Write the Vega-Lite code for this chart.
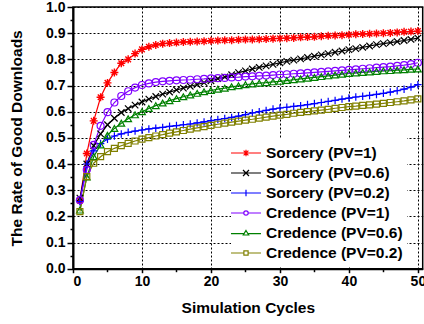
{
  "$schema": "https://vega.github.io/schema/vega-lite/v6.json",
  "width": 349.7,
  "height": 261.7,
  "autosize": {"type": "none"},
  "padding": {"left": 73, "top": 7, "right": 1.3, "bottom": 55.3},
  "config": {
    "font": "Liberation Sans",
    "view": {"stroke": "black", "strokeWidth": 1.5},
    "axis": {
      "labelFont": "Liberation Sans", "labelFontWeight": "bold", "labelFontSize": 14, "labelColor": "black",
      "titleFont": "Liberation Sans", "titleFontWeight": "bold", "titleFontSize": 15.5, "titleColor": "black",
      "domainColor": "black", "domainWidth": 2, "tickColor": "black", "tickWidth": 1.5,
      "gridColor": "black", "gridDash": [2, 2], "gridOpacity": 1, "gridWidth": 1
    },
    "legend": {
      "labelFont": "Liberation Sans", "labelFontWeight": "bold", "labelFontSize": 15.5, "labelColor": "black",
      "labelLimit": 300
    },
    "point": {"filled": false, "size": 49, "strokeWidth": 1.2, "opacity": 1}
  },
  "resolve": {"axis": {"x": "independent", "y": "independent"}},
  "data": {"values": [
    {"x":1,"s":"Sorcery (PV=1)","y":0.26},{"x":2,"s":"Sorcery (PV=1)","y":0.44},{"x":3,"s":"Sorcery (PV=1)","y":0.565},{"x":4,"s":"Sorcery (PV=1)","y":0.655},{"x":5,"s":"Sorcery (PV=1)","y":0.71},{"x":6,"s":"Sorcery (PV=1)","y":0.75},{"x":7,"s":"Sorcery (PV=1)","y":0.785},{"x":8,"s":"Sorcery (PV=1)","y":0.8},{"x":9,"s":"Sorcery (PV=1)","y":0.822},{"x":10,"s":"Sorcery (PV=1)","y":0.838},
    {"x":11,"s":"Sorcery (PV=1)","y":0.848},{"x":12,"s":"Sorcery (PV=1)","y":0.855},{"x":13,"s":"Sorcery (PV=1)","y":0.86},{"x":14,"s":"Sorcery (PV=1)","y":0.862},{"x":15,"s":"Sorcery (PV=1)","y":0.864},{"x":16,"s":"Sorcery (PV=1)","y":0.866},{"x":17,"s":"Sorcery (PV=1)","y":0.867},{"x":18,"s":"Sorcery (PV=1)","y":0.868},{"x":19,"s":"Sorcery (PV=1)","y":0.869},{"x":20,"s":"Sorcery (PV=1)","y":0.871},
    {"x":21,"s":"Sorcery (PV=1)","y":0.872},{"x":22,"s":"Sorcery (PV=1)","y":0.873},{"x":23,"s":"Sorcery (PV=1)","y":0.873},{"x":24,"s":"Sorcery (PV=1)","y":0.875},{"x":25,"s":"Sorcery (PV=1)","y":0.876},{"x":26,"s":"Sorcery (PV=1)","y":0.876},{"x":27,"s":"Sorcery (PV=1)","y":0.877},{"x":28,"s":"Sorcery (PV=1)","y":0.878},{"x":29,"s":"Sorcery (PV=1)","y":0.879},{"x":30,"s":"Sorcery (PV=1)","y":0.88},
    {"x":31,"s":"Sorcery (PV=1)","y":0.881},{"x":32,"s":"Sorcery (PV=1)","y":0.882},{"x":33,"s":"Sorcery (PV=1)","y":0.884},{"x":34,"s":"Sorcery (PV=1)","y":0.885},{"x":35,"s":"Sorcery (PV=1)","y":0.886},{"x":36,"s":"Sorcery (PV=1)","y":0.888},{"x":37,"s":"Sorcery (PV=1)","y":0.89},{"x":38,"s":"Sorcery (PV=1)","y":0.891},{"x":39,"s":"Sorcery (PV=1)","y":0.892},{"x":40,"s":"Sorcery (PV=1)","y":0.894},
    {"x":41,"s":"Sorcery (PV=1)","y":0.896},{"x":42,"s":"Sorcery (PV=1)","y":0.897},{"x":43,"s":"Sorcery (PV=1)","y":0.898},{"x":44,"s":"Sorcery (PV=1)","y":0.899},{"x":45,"s":"Sorcery (PV=1)","y":0.9},{"x":46,"s":"Sorcery (PV=1)","y":0.901},{"x":47,"s":"Sorcery (PV=1)","y":0.903},{"x":48,"s":"Sorcery (PV=1)","y":0.905},{"x":49,"s":"Sorcery (PV=1)","y":0.906},{"x":50,"s":"Sorcery (PV=1)","y":0.908},

    {"x":1,"s":"Sorcery (PV=0.6)","y":0.27},{"x":2,"s":"Sorcery (PV=0.6)","y":0.4},{"x":3,"s":"Sorcery (PV=0.6)","y":0.47},{"x":4,"s":"Sorcery (PV=0.6)","y":0.515},{"x":5,"s":"Sorcery (PV=0.6)","y":0.55},{"x":6,"s":"Sorcery (PV=0.6)","y":0.575},{"x":7,"s":"Sorcery (PV=0.6)","y":0.597},{"x":8,"s":"Sorcery (PV=0.6)","y":0.612},{"x":9,"s":"Sorcery (PV=0.6)","y":0.625},{"x":10,"s":"Sorcery (PV=0.6)","y":0.637},
    {"x":11,"s":"Sorcery (PV=0.6)","y":0.648},{"x":12,"s":"Sorcery (PV=0.6)","y":0.658},{"x":13,"s":"Sorcery (PV=0.6)","y":0.667},{"x":14,"s":"Sorcery (PV=0.6)","y":0.675},{"x":15,"s":"Sorcery (PV=0.6)","y":0.683},{"x":16,"s":"Sorcery (PV=0.6)","y":0.69},{"x":17,"s":"Sorcery (PV=0.6)","y":0.697},{"x":18,"s":"Sorcery (PV=0.6)","y":0.704},{"x":19,"s":"Sorcery (PV=0.6)","y":0.711},{"x":20,"s":"Sorcery (PV=0.6)","y":0.718},
    {"x":21,"s":"Sorcery (PV=0.6)","y":0.726},{"x":22,"s":"Sorcery (PV=0.6)","y":0.733},{"x":23,"s":"Sorcery (PV=0.6)","y":0.741},{"x":24,"s":"Sorcery (PV=0.6)","y":0.749},{"x":25,"s":"Sorcery (PV=0.6)","y":0.756},{"x":26,"s":"Sorcery (PV=0.6)","y":0.763},{"x":27,"s":"Sorcery (PV=0.6)","y":0.769},{"x":28,"s":"Sorcery (PV=0.6)","y":0.775},{"x":29,"s":"Sorcery (PV=0.6)","y":0.781},{"x":30,"s":"Sorcery (PV=0.6)","y":0.787},
    {"x":31,"s":"Sorcery (PV=0.6)","y":0.792},{"x":32,"s":"Sorcery (PV=0.6)","y":0.797},{"x":33,"s":"Sorcery (PV=0.6)","y":0.802},{"x":34,"s":"Sorcery (PV=0.6)","y":0.807},{"x":35,"s":"Sorcery (PV=0.6)","y":0.812},{"x":36,"s":"Sorcery (PV=0.6)","y":0.817},{"x":37,"s":"Sorcery (PV=0.6)","y":0.822},{"x":38,"s":"Sorcery (PV=0.6)","y":0.827},{"x":39,"s":"Sorcery (PV=0.6)","y":0.832},{"x":40,"s":"Sorcery (PV=0.6)","y":0.837},
    {"x":41,"s":"Sorcery (PV=0.6)","y":0.841},{"x":42,"s":"Sorcery (PV=0.6)","y":0.846},{"x":43,"s":"Sorcery (PV=0.6)","y":0.851},{"x":44,"s":"Sorcery (PV=0.6)","y":0.856},{"x":45,"s":"Sorcery (PV=0.6)","y":0.86},{"x":46,"s":"Sorcery (PV=0.6)","y":0.864},{"x":47,"s":"Sorcery (PV=0.6)","y":0.868},{"x":48,"s":"Sorcery (PV=0.6)","y":0.872},{"x":49,"s":"Sorcery (PV=0.6)","y":0.876},{"x":50,"s":"Sorcery (PV=0.6)","y":0.881},

    {"x":1,"s":"Sorcery (PV=0.2)","y":0.256},{"x":2,"s":"Sorcery (PV=0.2)","y":0.4},{"x":3,"s":"Sorcery (PV=0.2)","y":0.45},{"x":4,"s":"Sorcery (PV=0.2)","y":0.478},{"x":5,"s":"Sorcery (PV=0.2)","y":0.495},{"x":6,"s":"Sorcery (PV=0.2)","y":0.507},{"x":7,"s":"Sorcery (PV=0.2)","y":0.515},{"x":8,"s":"Sorcery (PV=0.2)","y":0.521},{"x":9,"s":"Sorcery (PV=0.2)","y":0.526},{"x":10,"s":"Sorcery (PV=0.2)","y":0.53},
    {"x":11,"s":"Sorcery (PV=0.2)","y":0.534},{"x":12,"s":"Sorcery (PV=0.2)","y":0.537},{"x":13,"s":"Sorcery (PV=0.2)","y":0.54},{"x":14,"s":"Sorcery (PV=0.2)","y":0.544},{"x":15,"s":"Sorcery (PV=0.2)","y":0.547},{"x":16,"s":"Sorcery (PV=0.2)","y":0.55},{"x":17,"s":"Sorcery (PV=0.2)","y":0.553},{"x":18,"s":"Sorcery (PV=0.2)","y":0.557},{"x":19,"s":"Sorcery (PV=0.2)","y":0.561},{"x":20,"s":"Sorcery (PV=0.2)","y":0.566},
    {"x":21,"s":"Sorcery (PV=0.2)","y":0.57},{"x":22,"s":"Sorcery (PV=0.2)","y":0.574},{"x":23,"s":"Sorcery (PV=0.2)","y":0.578},{"x":24,"s":"Sorcery (PV=0.2)","y":0.583},{"x":25,"s":"Sorcery (PV=0.2)","y":0.589},{"x":26,"s":"Sorcery (PV=0.2)","y":0.595},{"x":27,"s":"Sorcery (PV=0.2)","y":0.6},{"x":28,"s":"Sorcery (PV=0.2)","y":0.605},{"x":29,"s":"Sorcery (PV=0.2)","y":0.61},{"x":30,"s":"Sorcery (PV=0.2)","y":0.614},
    {"x":31,"s":"Sorcery (PV=0.2)","y":0.617},{"x":32,"s":"Sorcery (PV=0.2)","y":0.62},{"x":33,"s":"Sorcery (PV=0.2)","y":0.623},{"x":34,"s":"Sorcery (PV=0.2)","y":0.627},{"x":35,"s":"Sorcery (PV=0.2)","y":0.631},{"x":36,"s":"Sorcery (PV=0.2)","y":0.635},{"x":37,"s":"Sorcery (PV=0.2)","y":0.639},{"x":38,"s":"Sorcery (PV=0.2)","y":0.643},{"x":39,"s":"Sorcery (PV=0.2)","y":0.648},{"x":40,"s":"Sorcery (PV=0.2)","y":0.652},
    {"x":41,"s":"Sorcery (PV=0.2)","y":0.656},{"x":42,"s":"Sorcery (PV=0.2)","y":0.659},{"x":43,"s":"Sorcery (PV=0.2)","y":0.662},{"x":44,"s":"Sorcery (PV=0.2)","y":0.666},{"x":45,"s":"Sorcery (PV=0.2)","y":0.67},{"x":46,"s":"Sorcery (PV=0.2)","y":0.675},{"x":47,"s":"Sorcery (PV=0.2)","y":0.68},{"x":48,"s":"Sorcery (PV=0.2)","y":0.686},{"x":49,"s":"Sorcery (PV=0.2)","y":0.694},{"x":50,"s":"Sorcery (PV=0.2)","y":0.703},

    {"x":1,"s":"Credence (PV=1)","y":0.262},{"x":2,"s":"Credence (PV=1)","y":0.378},{"x":3,"s":"Credence (PV=1)","y":0.473},{"x":4,"s":"Credence (PV=1)","y":0.546},{"x":5,"s":"Credence (PV=1)","y":0.598},{"x":6,"s":"Credence (PV=1)","y":0.635},{"x":7,"s":"Credence (PV=1)","y":0.66},{"x":8,"s":"Credence (PV=1)","y":0.678},{"x":9,"s":"Credence (PV=1)","y":0.692},{"x":10,"s":"Credence (PV=1)","y":0.702},
    {"x":11,"s":"Credence (PV=1)","y":0.708},{"x":12,"s":"Credence (PV=1)","y":0.713},{"x":13,"s":"Credence (PV=1)","y":0.716},{"x":14,"s":"Credence (PV=1)","y":0.718},{"x":15,"s":"Credence (PV=1)","y":0.72},{"x":16,"s":"Credence (PV=1)","y":0.721},{"x":17,"s":"Credence (PV=1)","y":0.722},{"x":18,"s":"Credence (PV=1)","y":0.724},{"x":19,"s":"Credence (PV=1)","y":0.725},{"x":20,"s":"Credence (PV=1)","y":0.727},
    {"x":21,"s":"Credence (PV=1)","y":0.728},{"x":22,"s":"Credence (PV=1)","y":0.729},{"x":23,"s":"Credence (PV=1)","y":0.731},{"x":24,"s":"Credence (PV=1)","y":0.732},{"x":25,"s":"Credence (PV=1)","y":0.734},{"x":26,"s":"Credence (PV=1)","y":0.735},{"x":27,"s":"Credence (PV=1)","y":0.737},{"x":28,"s":"Credence (PV=1)","y":0.738},{"x":29,"s":"Credence (PV=1)","y":0.74},{"x":30,"s":"Credence (PV=1)","y":0.742},
    {"x":31,"s":"Credence (PV=1)","y":0.743},{"x":32,"s":"Credence (PV=1)","y":0.745},{"x":33,"s":"Credence (PV=1)","y":0.746},{"x":34,"s":"Credence (PV=1)","y":0.748},{"x":35,"s":"Credence (PV=1)","y":0.75},{"x":36,"s":"Credence (PV=1)","y":0.752},{"x":37,"s":"Credence (PV=1)","y":0.754},{"x":38,"s":"Credence (PV=1)","y":0.756},{"x":39,"s":"Credence (PV=1)","y":0.758},{"x":40,"s":"Credence (PV=1)","y":0.76},
    {"x":41,"s":"Credence (PV=1)","y":0.762},{"x":42,"s":"Credence (PV=1)","y":0.764},{"x":43,"s":"Credence (PV=1)","y":0.766},{"x":44,"s":"Credence (PV=1)","y":0.768},{"x":45,"s":"Credence (PV=1)","y":0.77},{"x":46,"s":"Credence (PV=1)","y":0.772},{"x":47,"s":"Credence (PV=1)","y":0.775},{"x":48,"s":"Credence (PV=1)","y":0.778},{"x":49,"s":"Credence (PV=1)","y":0.782},{"x":50,"s":"Credence (PV=1)","y":0.787},

    {"x":1,"s":"Credence (PV=0.6)","y":0.224},{"x":2,"s":"Credence (PV=0.6)","y":0.35},{"x":3,"s":"Credence (PV=0.6)","y":0.428},{"x":4,"s":"Credence (PV=0.6)","y":0.473},{"x":5,"s":"Credence (PV=0.6)","y":0.51},{"x":6,"s":"Credence (PV=0.6)","y":0.536},{"x":7,"s":"Credence (PV=0.6)","y":0.556},{"x":8,"s":"Credence (PV=0.6)","y":0.573},{"x":9,"s":"Credence (PV=0.6)","y":0.588},{"x":10,"s":"Credence (PV=0.6)","y":0.6},
    {"x":11,"s":"Credence (PV=0.6)","y":0.612},{"x":12,"s":"Credence (PV=0.6)","y":0.623},{"x":13,"s":"Credence (PV=0.6)","y":0.633},{"x":14,"s":"Credence (PV=0.6)","y":0.642},{"x":15,"s":"Credence (PV=0.6)","y":0.65},{"x":16,"s":"Credence (PV=0.6)","y":0.657},{"x":17,"s":"Credence (PV=0.6)","y":0.664},{"x":18,"s":"Credence (PV=0.6)","y":0.67},{"x":19,"s":"Credence (PV=0.6)","y":0.676},{"x":20,"s":"Credence (PV=0.6)","y":0.681},
    {"x":21,"s":"Credence (PV=0.6)","y":0.686},{"x":22,"s":"Credence (PV=0.6)","y":0.69},{"x":23,"s":"Credence (PV=0.6)","y":0.695},{"x":24,"s":"Credence (PV=0.6)","y":0.699},{"x":25,"s":"Credence (PV=0.6)","y":0.703},{"x":26,"s":"Credence (PV=0.6)","y":0.706},{"x":27,"s":"Credence (PV=0.6)","y":0.709},{"x":28,"s":"Credence (PV=0.6)","y":0.711},{"x":29,"s":"Credence (PV=0.6)","y":0.714},{"x":30,"s":"Credence (PV=0.6)","y":0.716},
    {"x":31,"s":"Credence (PV=0.6)","y":0.719},{"x":32,"s":"Credence (PV=0.6)","y":0.722},{"x":33,"s":"Credence (PV=0.6)","y":0.725},{"x":34,"s":"Credence (PV=0.6)","y":0.728},{"x":35,"s":"Credence (PV=0.6)","y":0.731},{"x":36,"s":"Credence (PV=0.6)","y":0.734},{"x":37,"s":"Credence (PV=0.6)","y":0.737},{"x":38,"s":"Credence (PV=0.6)","y":0.74},{"x":39,"s":"Credence (PV=0.6)","y":0.743},{"x":40,"s":"Credence (PV=0.6)","y":0.746},
    {"x":41,"s":"Credence (PV=0.6)","y":0.748},{"x":42,"s":"Credence (PV=0.6)","y":0.75},{"x":43,"s":"Credence (PV=0.6)","y":0.752},{"x":44,"s":"Credence (PV=0.6)","y":0.754},{"x":45,"s":"Credence (PV=0.6)","y":0.756},{"x":46,"s":"Credence (PV=0.6)","y":0.757},{"x":47,"s":"Credence (PV=0.6)","y":0.759},{"x":48,"s":"Credence (PV=0.6)","y":0.76},{"x":49,"s":"Credence (PV=0.6)","y":0.762},{"x":50,"s":"Credence (PV=0.6)","y":0.763},

    {"x":1,"s":"Credence (PV=0.2)","y":0.218},{"x":2,"s":"Credence (PV=0.2)","y":0.352},{"x":3,"s":"Credence (PV=0.2)","y":0.403},{"x":4,"s":"Credence (PV=0.2)","y":0.428},{"x":5,"s":"Credence (PV=0.2)","y":0.447},{"x":6,"s":"Credence (PV=0.2)","y":0.46},{"x":7,"s":"Credence (PV=0.2)","y":0.47},{"x":8,"s":"Credence (PV=0.2)","y":0.479},{"x":9,"s":"Credence (PV=0.2)","y":0.488},{"x":10,"s":"Credence (PV=0.2)","y":0.495},
    {"x":11,"s":"Credence (PV=0.2)","y":0.501},{"x":12,"s":"Credence (PV=0.2)","y":0.507},{"x":13,"s":"Credence (PV=0.2)","y":0.512},{"x":14,"s":"Credence (PV=0.2)","y":0.518},{"x":15,"s":"Credence (PV=0.2)","y":0.523},{"x":16,"s":"Credence (PV=0.2)","y":0.528},{"x":17,"s":"Credence (PV=0.2)","y":0.533},{"x":18,"s":"Credence (PV=0.2)","y":0.538},{"x":19,"s":"Credence (PV=0.2)","y":0.543},{"x":20,"s":"Credence (PV=0.2)","y":0.548},
    {"x":21,"s":"Credence (PV=0.2)","y":0.552},{"x":22,"s":"Credence (PV=0.2)","y":0.556},{"x":23,"s":"Credence (PV=0.2)","y":0.56},{"x":24,"s":"Credence (PV=0.2)","y":0.564},{"x":25,"s":"Credence (PV=0.2)","y":0.568},{"x":26,"s":"Credence (PV=0.2)","y":0.571},{"x":27,"s":"Credence (PV=0.2)","y":0.575},{"x":28,"s":"Credence (PV=0.2)","y":0.579},{"x":29,"s":"Credence (PV=0.2)","y":0.583},{"x":30,"s":"Credence (PV=0.2)","y":0.587},
    {"x":31,"s":"Credence (PV=0.2)","y":0.59},{"x":32,"s":"Credence (PV=0.2)","y":0.594},{"x":33,"s":"Credence (PV=0.2)","y":0.597},{"x":34,"s":"Credence (PV=0.2)","y":0.6},{"x":35,"s":"Credence (PV=0.2)","y":0.603},{"x":36,"s":"Credence (PV=0.2)","y":0.606},{"x":37,"s":"Credence (PV=0.2)","y":0.609},{"x":38,"s":"Credence (PV=0.2)","y":0.613},{"x":39,"s":"Credence (PV=0.2)","y":0.616},{"x":40,"s":"Credence (PV=0.2)","y":0.619},
    {"x":41,"s":"Credence (PV=0.2)","y":0.621},{"x":42,"s":"Credence (PV=0.2)","y":0.624},{"x":43,"s":"Credence (PV=0.2)","y":0.626},{"x":44,"s":"Credence (PV=0.2)","y":0.629},{"x":45,"s":"Credence (PV=0.2)","y":0.632},{"x":46,"s":"Credence (PV=0.2)","y":0.635},{"x":47,"s":"Credence (PV=0.2)","y":0.638},{"x":48,"s":"Credence (PV=0.2)","y":0.641},{"x":49,"s":"Credence (PV=0.2)","y":0.645},{"x":50,"s":"Credence (PV=0.2)","y":0.649}
  ]},
  "layer": [
    {
      "mark": {"type": "line", "strokeWidth": 1.2},
      "encoding": {
        "x": {"field": "x", "type": "quantitative", "scale": {"domain": [0, 50.7], "nice": false},
          "axis": {"orient": "bottom", "values": [0, 10, 20, 30, 40, 50], "tickSize": 4, "labelPadding": 2, "labelOverlap": false, "title": "Simulation Cycles", "titlePadding": 12, "grid": true}},
        "y": {"field": "y", "type": "quantitative", "scale": {"domain": [0, 1], "nice": false},
          "axis": {"orient": "left", "values": [0, 0.1, 0.2, 0.3, 0.4, 0.5, 0.6, 0.7, 0.8, 0.9, 1.0], "format": ".1f", "tickSize": 6, "labelPadding": 2, "labelOverlap": false, "title": "The Rate of Good Downloads", "titlePadding": 21, "grid": true}},
        "color": {"field": "s", "type": "nominal",
          "scale": {"domain": ["Sorcery (PV=1)", "Sorcery (PV=0.6)", "Sorcery (PV=0.2)", "Credence (PV=1)", "Credence (PV=0.6)", "Credence (PV=0.2)"],
                    "range": ["#ff0000", "#000000", "#0000ff", "#8000ff", "#008000", "#808000"]}},
        "detail": {"field": "s"}
      }
    },
    {
      "mark": {"type": "point", "opacity": 0},
      "encoding": {
        "x": {"field": "x", "type": "quantitative",
          "axis": {"orient": "bottom", "values": [5, 15, 25, 35, 45], "labels": false, "domain": false, "grid": false, "tickSize": 3, "title": null}},
        "y": {"field": "y", "type": "quantitative",
          "axis": {"orient": "left", "values": [0.05, 0.15, 0.25, 0.35, 0.45, 0.55, 0.65, 0.75, 0.85, 0.95], "labels": false, "domain": false, "grid": false, "tickSize": 3, "title": null}},
        "color": {"field": "s", "type": "nominal",
          "legend": {
            "title": null, "orient": "none", "legendX": 158, "legendY": 131,
            "fillColor": "white", "padding": 4, "symbolSize": 400, "symbolStrokeWidth": 1.2, "symbolOpacity": 1,
            "labelOffset": 9, "rowPadding": 0, "symbolFillColor": "transparent"}},
        "shape": {"field": "s", "type": "nominal",
          "scale": {"domain": ["Sorcery (PV=1)", "Sorcery (PV=0.6)", "Sorcery (PV=0.2)", "Credence (PV=1)", "Credence (PV=0.6)", "Credence (PV=0.2)"],
                    "range": ["M-1.5,0H1.5M0,-0.33V0.33M-0.33,0H0.33M-0.24,-0.24L0.24,0.24M-0.24,0.24L0.24,-0.24", "M-1.5,0H1.5M-0.3,-0.3L0.3,0.3M-0.3,0.3L0.3,-0.3", "M-1.5,0H1.5M0,-0.33V0.33", "M-1.5,0H-0.22M0.22,0H1.5M-0.22,0A0.22,0.22,0,1,0,0.22,0A0.22,0.22,0,1,0,-0.22,0Z", "M-1.5,0.06H-0.21M0.21,0.06H1.5M0,-0.25L0.27,0.2L-0.27,0.2Z", "M-1.5,0H-0.21M0.21,0H1.5M-0.21,-0.21H0.21V0.21H-0.21Z"]},
          "legend": {
            "title": null, "orient": "none", "legendX": 158, "legendY": 131,
            "fillColor": "white", "padding": 4, "symbolSize": 400, "symbolStrokeWidth": 1.2, "symbolOpacity": 1,
            "labelOffset": 9, "rowPadding": 0, "symbolFillColor": "transparent"}}
      }
    },
    {
      "transform": [{"filter": {"field": "s", "equal": "Sorcery (PV=1)"}}],
      "mark": {"type": "point", "shape": "M-1,0H1M0,-1V1M-0.7,-0.7L0.7,0.7M-0.7,0.7L0.7,-0.7", "size": 64, "strokeWidth": 1.4},
      "encoding": {
        "x": {"field": "x", "type": "quantitative", "axis": null},
        "y": {"field": "y", "type": "quantitative", "axis": null},
        "color": {"field": "s", "type": "nominal"}
      }
    },
    {
      "transform": [{"filter": {"field": "s", "equal": "Sorcery (PV=0.6)"}}],
      "mark": {"type": "point", "shape": "M-1,-1L1,1M-1,1L1,-1", "size": 42},
      "encoding": {
        "x": {"field": "x", "type": "quantitative", "axis": null},
        "y": {"field": "y", "type": "quantitative", "axis": null},
        "color": {"field": "s", "type": "nominal"}
      }
    },
    {
      "transform": [{"filter": {"field": "s", "equal": "Sorcery (PV=0.2)"}}],
      "mark": {"type": "point", "shape": "M-1,0H1M0,-1V1", "size": 56},
      "encoding": {
        "x": {"field": "x", "type": "quantitative", "axis": null},
        "y": {"field": "y", "type": "quantitative", "axis": null},
        "color": {"field": "s", "type": "nominal"}
      }
    },
    {
      "transform": [{"filter": {"field": "s", "equal": "Credence (PV=1)"}}],
      "mark": {"type": "point", "shape": "circle", "size": 49},
      "encoding": {
        "x": {"field": "x", "type": "quantitative", "axis": null},
        "y": {"field": "y", "type": "quantitative", "axis": null},
        "color": {"field": "s", "type": "nominal"}
      }
    },
    {
      "transform": [{"filter": {"field": "s", "equal": "Credence (PV=0.6)"}}],
      "mark": {"type": "point", "shape": "triangle-up", "size": 45},
      "encoding": {
        "x": {"field": "x", "type": "quantitative", "axis": null},
        "y": {"field": "y", "type": "quantitative", "axis": null},
        "color": {"field": "s", "type": "nominal"}
      }
    },
    {
      "transform": [{"filter": {"field": "s", "equal": "Credence (PV=0.2)"}}],
      "mark": {"type": "point", "shape": "square", "size": 36},
      "encoding": {
        "x": {"field": "x", "type": "quantitative", "axis": null},
        "y": {"field": "y", "type": "quantitative", "axis": null},
        "color": {"field": "s", "type": "nominal"}
      }
    }
  ]
}
